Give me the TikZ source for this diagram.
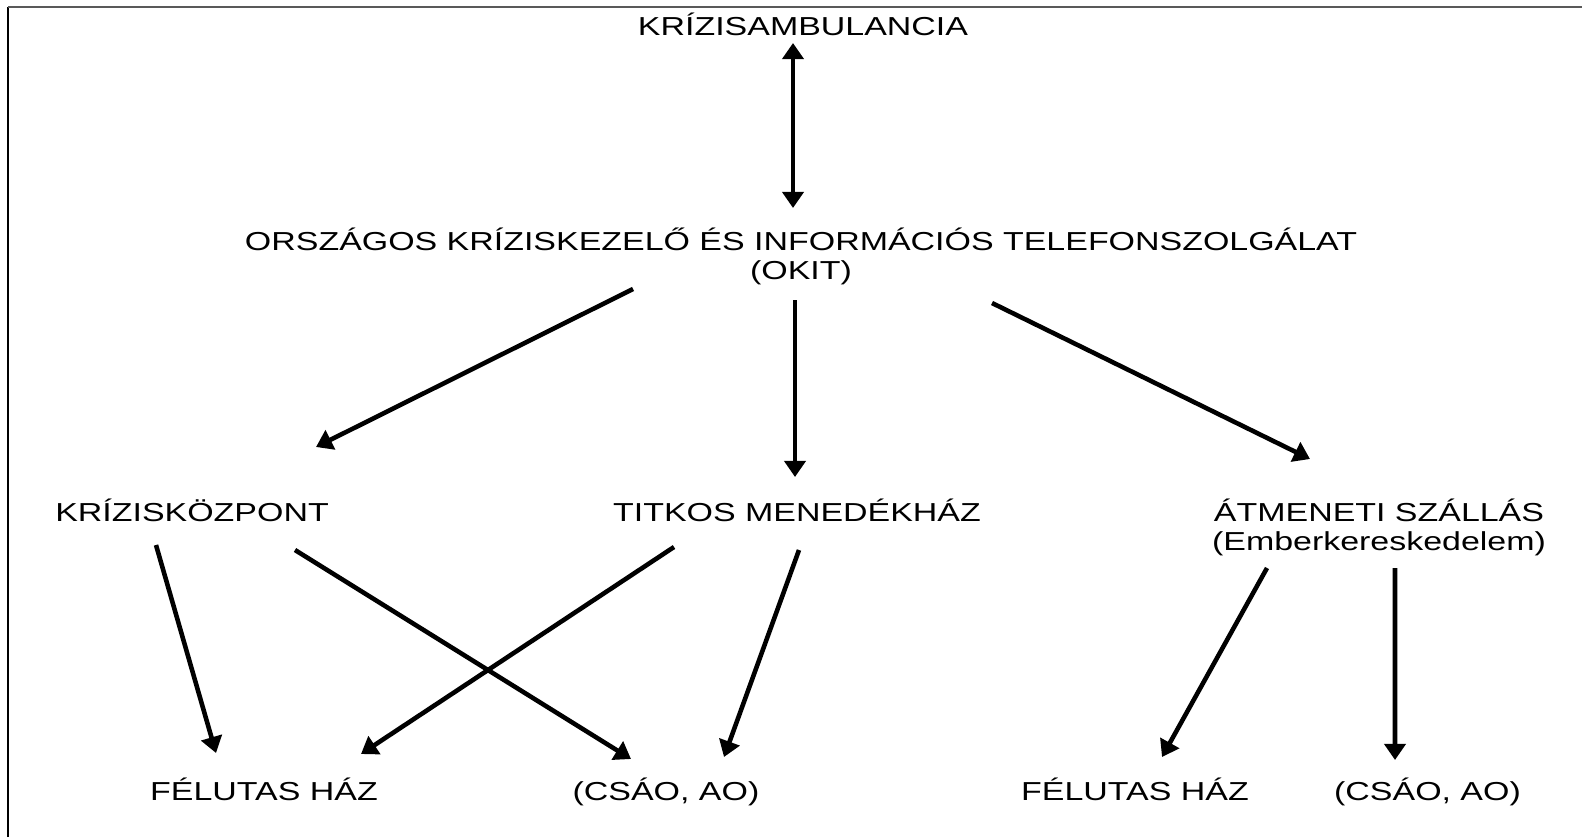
\documentclass[tikz,border=0pt]{standalone}
\usepackage{fontspec}
\setmainfont{Liberation Sans}[FakeStretch=1.305]
\usepackage{tikz}
\usetikzlibrary{arrows.meta}

\begin{document}
\begin{tikzpicture}[
            line width=1.3pt,
        label node/.style={inner sep=0pt,anchor=base,font=\fontsize{7.4}{8.25}\selectfont,align=center},
        arr/.style={-{Triangle[length=4.6pt,width=6pt]}},
        biarr/.style={{Triangle[length=4.6pt,width=6pt]}-{Triangle[length=4.6pt,width=6pt]}}
                                ]
    \useasboundingbox (0,0) rectangle (15.82,-8.37);
    \draw[line width=0.6pt,black] (0.08,-8.37) -- (0.08,-0.07);
    \draw[line width=0.6pt,black!65] (0.08,-0.07) -- (15.82,-0.07);

          \node[label node] (amb) at (8.03,-0.35) {KRÍZISAMBULANCIA};
          \node[label node] (okit) at (8.01,-2.795) {ORSZÁGOS KRÍZISKEZELŐ ÉS INFORMÁCIÓS TELEFONSZOLGÁLAT\\(OKIT)};
          \node[label node] (kkp) at (1.92,-5.217) {KRÍZISKÖZPONT};
          \node[label node] (titkos) at (7.97,-5.217) {TITKOS MENEDÉKHÁZ};
          \node[label node] (atm) at (13.79,-5.50) {ÁTMENETI SZÁLLÁS\\(Emberkereskedelem)};
          \node[label node] (fh1) at (2.64,-8.00) {FÉLUTAS HÁZ};
          \node[label node] (csao1) at (6.66,-8.00) {(CSÁO, AO)};
          \node[label node] (fh2) at (11.35,-8.00) {FÉLUTAS HÁZ};
          \node[label node] (csao2) at (14.275,-8.00) {(CSÁO, AO)};

          \path
            ([xshift=-0.10cm,yshift=-0.08cm]amb.base) edge[biarr] ([xshift=-0.08cm,yshift=0.715cm]okit.base)
            ([xshift=-1.68cm,yshift=-0.095cm]okit.base) edge[arr] ([xshift=1.24cm,yshift=0.747cm]kkp.base)
            ([xshift=-0.06cm,yshift=-0.205cm]okit.base) edge[arr] ([xshift=-0.02cm,yshift=0.447cm]titkos.base)
            ([xshift=1.91cm,yshift=-0.235cm]okit.base) edge[arr] ([xshift=-0.69cm,yshift=0.91cm]atm.base)
            ([xshift=-0.36cm,yshift=-0.233cm]kkp.base) edge[arr] ([xshift=-0.48cm,yshift=0.47cm]fh1.base)
            ([xshift=1.03cm,yshift=-0.283cm]kkp.base) edge[arr] ([xshift=-0.35cm,yshift=0.41cm]csao1.base)
            ([xshift=-1.23cm,yshift=-0.253cm]titkos.base) edge[arr] ([xshift=0.97cm,yshift=0.46cm]fh1.base)
            ([xshift=0.02cm,yshift=-0.283cm]titkos.base) edge[arr] ([xshift=0.58cm,yshift=0.43cm]csao1.base)
            ([xshift=-1.12cm,yshift=-0.18cm]atm.base) edge[arr] ([xshift=0.27cm,yshift=0.43cm]fh2.base)
            ([xshift=0.16cm,yshift=-0.18cm]atm.base) edge[arr] ([xshift=-0.325cm,yshift=0.40cm]csao2.base);
    \end{tikzpicture}
\end{document}
